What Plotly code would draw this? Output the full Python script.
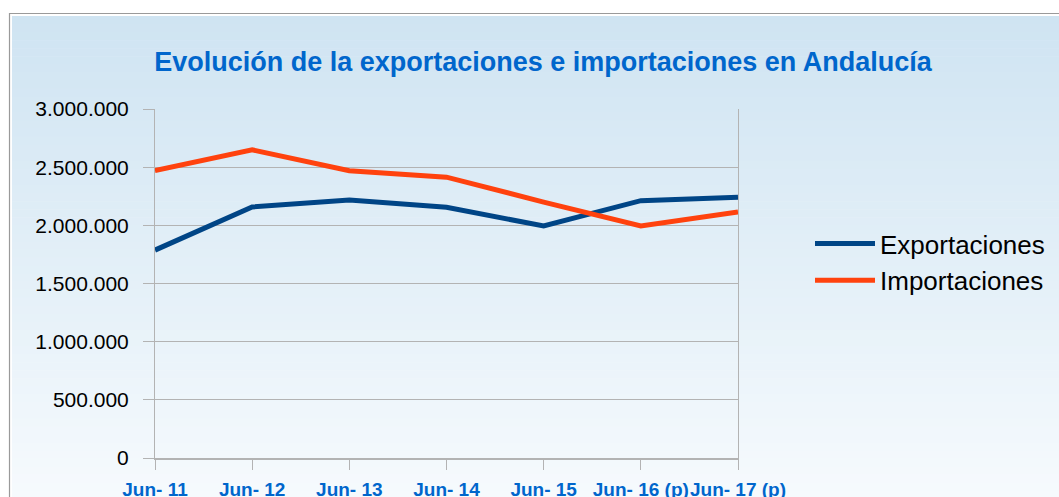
import plotly.graph_objects as go

categories = ["Jun- 11", "Jun- 12", "Jun- 13", "Jun- 14", "Jun- 15", "Jun- 16 (p)", "Jun- 17 (p)"]
exportaciones = [1787000, 2158000, 2218000, 2155000, 1994000, 2212000, 2241000]
importaciones = [2470000, 2649000, 2470000, 2414000, 2200000, 1994000, 2115000]

W, H = 1059, 497
L, R, T, B = 155, 738, 109, 458

def px_x(px):
    return (px - L) / (R - L)

def px_y(py):
    return (B - py) / (B - T)

xidx = list(range(len(categories)))

fig = go.Figure()
fig.add_trace(go.Scatter(x=xidx, y=exportaciones, mode="lines", name="Exportaciones",
                         line=dict(color="#004586", width=5)))
fig.add_trace(go.Scatter(x=xidx, y=importaciones, mode="lines", name="Importaciones",
                         line=dict(color="#ff420e", width=5)))

# gradient background made of strips
shapes = []
n = 60
top_c = (0xcf, 0xe4, 0xf2)
bot_c = (0xf6, 0xfa, 0xfd)
y0p, y1p = 16, H + 2
for i in range(n):
    a = y0p + (y1p - y0p) * i / n
    b = y0p + (y1p - y0p) * (i + 1) / n + 0.6
    t = i / (n - 1)
    c = tuple(round(top_c[k] + (bot_c[k] - top_c[k]) * t) for k in range(3))
    shapes.append(dict(type="rect", xref="paper", yref="paper", layer="below",
                       x0=px_x(12), x1=px_x(W + 5), y0=px_y(a), y1=px_y(b),
                       line=dict(width=0), fillcolor="rgb(%d,%d,%d)" % c))
# outer border
shapes.append(dict(type="rect", xref="paper", yref="paper", layer="below",
                   x0=px_x(9.5), x1=px_x(W + 20), y0=px_y(13.5), y1=px_y(H + 20),
                   line=dict(width=1.2, color="#9a9a9a"), fillcolor="rgba(0,0,0,0)"))

fig.update_layout(
    width=W, height=H,
    margin=dict(l=L, r=W - R, t=T, b=H - B, pad=0, autoexpand=False),
    paper_bgcolor="white",
    plot_bgcolor="rgba(0,0,0,0)",
    separators=",.",
    shapes=shapes,
    font=dict(family="Liberation Sans, Arial, sans-serif", color="black"),
    title=dict(text="Evolución de la exportaciones e importaciones en Andalucía",
               x=543 / W, xanchor="center", xref="container",
               y=1 - 62 / H, yanchor="middle", yref="container",
               font=dict(size=27, color="#0066cc", weight="bold",
                         family="Liberation Sans, Arial, sans-serif")),
    legend=dict(x=px_x(810), xanchor="left", y=px_y(262), yanchor="middle",
                font=dict(size=26, color="black"),
                bgcolor="rgba(0,0,0,0)", itemwidth=60, tracegroupgap=0),
    showlegend=True,
)

fig.update_xaxes(range=[0, 6], tickmode="array", tickvals=xidx, ticktext=categories,
                 tickangle=0,
                 showgrid=False, showline=True, linecolor="#b3b3b3", linewidth=1.5,
                 mirror=False, ticks="outside", ticklen=10, tickcolor="#b3b3b3",
                 tickfont=dict(size=19, color="#0066cc", weight="bold"),
                 ticklabelstandoff=3, zeroline=False, automargin=False)
fig.update_yaxes(range=[0, 3000000], dtick=500000, tickformat=",d",
                 showgrid=True, gridcolor="#b3b3b3", gridwidth=1,
                 showline=True, linecolor="#b3b3b3", mirror=True,
                 ticks="outside", ticklen=11, tickcolor="#b3b3b3",
                 tickfont=dict(size=21, color="black"), ticklabelstandoff=10,
                 zeroline=False, automargin=False)

fig.write_html("out.html", config={"displayModeBar": False},
               post_script="document.body.style.margin='0';document.body.style.overflow='hidden';")
